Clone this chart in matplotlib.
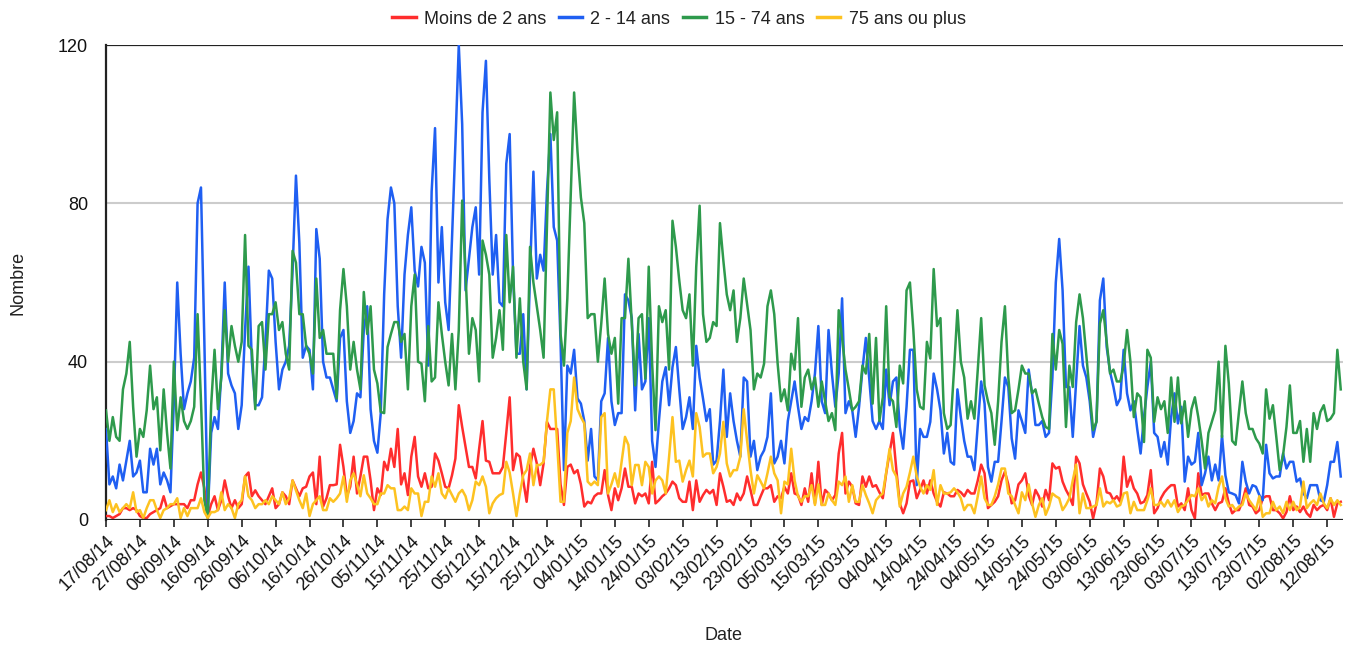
import matplotlib
matplotlib.use("Agg")
import matplotlib.pyplot as plt
import pandas as pd

plt.rcParams['font.family'] = ['Liberation Sans', 'DejaVu Sans']

start_date = "2014-08-17"
n_days = 365

series_names = ["Moins de 2 ans", "2 - 14 ans", "15 - 74 ans", "75 ans ou plus"]
series_colors = ["#ff2d2d", "#1f5ff2", "#2e9a4c", "#fdc220"]

moins_2 = [
    1, 1, 0.5, 1, 1.5, 3, 3, 2.5, 3, 2.5,
    1, 0.5, 0.5, 1.5, 2, 2.5, 3, 6, 3, 3.5,
    4, 4, 4, 4, 3, 5, 5, 9, 12, 8,
    1, 4, 6, 2.5, 5, 10, 6, 3, 5, 3,
    4, 11, 12, 6, 7.5, 6, 5, 4, 6, 8,
    3, 4, 7, 6, 4, 10, 8, 6, 8, 8.4,
    11, 12, 4, 16, 3.4, 5.5, 8.8, 8.8, 9, 19,
    13.4, 6, 8.4, 16, 6.7, 11, 16, 16, 10, 2.5,
    8, 6.3, 14.7, 12.6, 18, 13.4, 23, 9, 11.8, 6.3,
    16, 21, 11, 8.4, 11.8, 8, 8.4, 16.8, 15, 11.8,
    8.4, 8, 11.3, 15.5, 29, 23.5, 18.5, 13.4, 13.4, 10.5,
    18, 25, 15, 14.7, 11.8, 11.8, 11.8, 13.4, 22, 31,
    12.6, 16.8, 16, 10, 4.6, 13.4, 18, 14.3, 8.8, 14.3,
    24.8, 23, 23, 23, 9, 3.8, 13.4, 14, 11.8, 12.6,
    9, 3.4, 4.6, 4.2, 6, 6.7, 6.7, 12.6, 6.3, 2.5,
    8, 5, 8, 13, 8.4, 8.4, 4.2, 6.7, 6, 6.7,
    4.2, 14.7, 4.2, 5, 6, 6.7, 8, 9.7, 8.8, 5.5,
    4.6, 4.6, 9.7, 2.5, 10, 4.6, 6.3, 7.6, 6.7, 7.6,
    3.8, 11.8, 8.4, 4.6, 5, 3.8, 6.7, 5, 6.7, 11,
    7.6, 3.8, 3.8, 6, 8, 8, 8.8, 4.6, 6, 5.5,
    8.4, 6.7, 11.8, 6.7, 6.3, 3.8, 8, 4.6, 11.8, 4.2,
    14.7, 3.8, 7.6, 6.7, 5, 6.3, 16.8, 22, 6.7, 9.7,
    8.4, 4.2, 3.8, 11, 8.4, 11, 8.4, 8.8, 7, 5.5,
    11.8, 17, 22, 12.6, 4.2, 1.7, 4.2, 9.7, 10, 5.5,
    7.6, 10, 6.7, 10, 6.7, 4.6, 3.4, 7, 6.7, 6,
    6, 7.6, 7, 6, 7.6, 6.7, 6.7, 10, 14, 11.8,
    3, 3.8, 4.6, 6, 10, 12.2, 9, 4.2, 5, 9,
    10, 11.8, 6.3, 3.8, 7.6, 6, 3.4, 7.6, 5, 14.3,
    13, 13.4, 9.7, 7.6, 6, 3.8, 16, 14.3, 9, 6.7,
    4.6, 0.4, 4.2, 13, 11, 7, 6.7, 5, 6, 4.6,
    16, 8.4, 11, 8, 6.7, 4.2, 4.6, 6.3, 12.6, 1.7,
    3, 5.5, 7, 8, 8.8, 8.8, 3.4, 4.2, 2.5, 8,
    2.5, 0.4, 11.8, 6.3, 6.7, 6.7, 4.2, 2.5, 4.2, 4.6,
    8, 4.2, 1.7, 2.5, 2.5, 4.6, 8, 3.8, 3.4, 1.7,
    2.5, 5.5, 6, 6, 2.5, 2.5, 1.7, 0.4, 2, 6,
    2.5, 3.4, 2, 3.4, 1.7, 0.8, 3.8, 2.5, 3.4, 3.8,
    2.5, 5.5, 0.8, 4.2, 4.6,
]

de_2_a_14 = [
    23, 9, 11, 8, 14, 10, 15, 20, 11, 12,
    15, 7, 7, 18, 14, 18, 9, 12, 10, 7,
    30, 60, 42, 28, 32, 35, 41, 80, 84, 45,
    1, 22, 26, 23, 37, 60, 37, 34, 32, 23,
    29, 48, 64, 40, 29, 29, 31, 45, 63, 61,
    45, 33, 38, 40, 44, 63, 87, 70, 41, 44,
    43, 33, 73.5, 66, 40, 36, 36, 33, 30, 46,
    48, 30, 22, 25, 32, 31, 48, 54, 28, 20,
    17, 27, 57, 76, 84, 80, 54, 41, 62, 72,
    79, 63, 59, 69, 65, 39, 83, 99, 60, 74,
    55, 48, 71, 95, 120, 100, 58, 66, 74, 79,
    62, 103, 116, 86, 62, 72, 55, 54, 90, 97.5,
    62, 42, 42, 52, 33, 62, 88, 61, 67, 63,
    83, 97.5, 74, 70.6, 45, 12.6, 39, 37, 43, 30.7,
    29.4, 25, 15, 23, 11, 10, 30, 32, 46, 30,
    24, 27, 27, 57, 55.5, 51, 27.7, 47, 33, 35,
    51, 20, 13.4, 25, 35, 38.6, 29, 38.6, 43.7, 33,
    23, 26, 31, 23, 44, 36, 30.7, 25, 28, 14,
    15, 25, 38, 21, 32, 25, 20, 16, 36, 35,
    16, 20, 12.6, 16, 17.6, 21, 32, 14.3, 16, 20,
    14.3, 25, 30, 35, 28.6, 23, 26, 25, 30, 37,
    49, 30, 27, 48, 37, 28.6, 37, 56, 27, 30,
    27.7, 21, 28.6, 38, 46, 35.7, 25, 23, 25, 23,
    38, 29, 35, 36, 23.5, 18, 28.6, 43, 43, 8.8,
    23, 21, 21, 24.8, 37, 33, 27.7, 16.8, 22, 14.7,
    14, 33, 26, 20, 16, 16, 12.6, 24, 35, 29.4,
    13.4, 9.7, 14.7, 14.7, 25, 36, 33.6, 20.6, 15.5, 27.7,
    25, 22, 38, 32, 24, 24, 25, 21, 22, 36,
    60, 71, 58, 33.6, 33.6, 21, 35, 49, 39, 36,
    30, 21, 25, 55.5, 61, 43.7, 37.4, 33.6, 29, 30.7,
    43, 32, 27.7, 30, 23, 16.8, 26, 33.6, 40, 22,
    21, 16, 19.7, 14, 26, 32, 24.4, 28.6, 9.7, 16,
    14, 14.7, 22, 8.8, 11.8, 16, 10, 14, 10, 21.4,
    11.3, 7, 6.7, 6.3, 4.2, 14.7, 9.7, 6.7, 8.8, 8.4,
    6.3, 5, 19, 11.8, 10.5, 11, 11, 16.8, 13, 14.7,
    14.7, 9.7, 10.5, 6.7, 5.5, 8.8, 8.8, 8.8, 5, 4.6,
    8.8, 14.7, 14.7, 19.7, 11,
]

de_15_a_74 = [
    27.7, 20, 26, 21, 20, 33, 37, 45, 28.6, 16,
    23, 21, 27.7, 39, 28, 31, 17.6, 33, 22, 13,
    40, 22.7, 31, 25, 23, 25, 28.6, 52, 30, 5,
    0.5, 29, 43, 28, 36, 53, 40, 49, 44, 40,
    45, 72, 44, 43, 28, 49, 50, 38, 52, 52,
    55, 48, 50, 42, 38, 68, 65, 52, 52, 44,
    42, 37, 61, 46, 48, 42, 42, 42, 30.7, 53,
    63.4, 54, 38, 45, 38, 33, 57.6, 47, 54, 38,
    34.5, 27.3, 27, 43.7, 47, 50, 50, 45, 47, 33,
    54, 62, 40, 39.5, 30, 49, 35, 36, 55, 47,
    40, 34, 47, 33, 48, 80.7, 62, 42, 51, 48,
    35, 70.6, 67, 62, 41, 46, 53, 43, 72, 55,
    64, 41, 56, 40, 33, 69, 60, 54, 48, 41,
    75, 108, 96, 103, 47, 39, 56, 82, 108, 93,
    81.5, 75, 51, 52, 52, 40, 49.6, 61, 47, 42,
    46, 29.4, 51, 51, 66, 49.6, 34, 51, 52, 35.7,
    64, 39.5, 22.7, 54, 50, 53, 38, 75.6, 69, 60.5,
    53, 51, 57, 39, 64, 79.4, 52, 45, 46, 50,
    49, 75, 65.5, 57, 53, 58, 45, 51, 61, 54.6,
    48, 33, 37, 36, 39.5, 54, 58, 52, 39.5, 30,
    33, 27.7, 42, 38, 51, 28.6, 36, 38, 33, 36,
    28.6, 35, 30, 25, 27, 22.7, 53, 46, 38, 33,
    27.7, 28.6, 30, 39, 37, 47, 29.4, 46, 25, 31,
    54, 31, 30, 23.5, 39, 34.5, 58, 60, 48, 33,
    28.6, 28, 45, 40.8, 63.4, 49, 51, 27, 23, 24,
    38, 53, 40, 36, 25.6, 30, 25.6, 38, 51, 34,
    30, 27, 19, 30, 45, 54, 36, 27, 27.7, 33,
    39, 37, 37, 32, 33, 29.4, 26, 23.5, 23, 47,
    38, 48, 44.5, 23.5, 39, 33.6, 50, 57, 51, 41.6,
    32, 22.7, 24.8, 49.6, 53, 45, 37, 38, 35, 35,
    39, 48, 40, 26, 32, 31, 19.7, 43, 41, 24.8,
    31, 28, 30, 22, 36, 24.8, 36, 24.4, 30, 21,
    28, 31, 26, 20, 13, 22, 24.8, 27.7, 40, 21,
    44, 34.5, 20, 19, 27.3, 35, 27, 23, 23, 20.6,
    19.3, 16.8, 33, 25.6, 29, 21, 12.6, 16.4, 23.5, 34,
    22, 22, 25, 14.7, 23, 14.7, 27, 23, 27.3, 29,
    25, 25.6, 27, 43, 33,
]

plus_75 = [
    2.5, 5, 2, 4, 2, 3, 4, 3, 7, 2,
    2.5, 0.5, 3, 5, 5, 2.5, 0.5, 2.5, 3, 4,
    4, 5.5, 0.5, 3, 1, 3, 3, 3, 5.5, 2,
    0.5, 2, 2, 2.5, 7, 2.5, 4, 3, 0.5, 4,
    5, 11, 6, 5, 3, 4, 4, 5, 4, 6,
    5, 4, 7, 4, 5.5, 10, 7.5, 5, 3, 6.7,
    1, 4, 5, 6, 2.5, 2.5, 5.5, 4.6, 5.5, 6.7,
    11, 4.6, 10, 11.8, 9, 6, 11.3, 6.7, 5.5, 4,
    4, 6.7, 6.7, 8.8, 8, 8, 2.5, 2.5, 3.4, 2.5,
    8, 6.7, 6.7, 1, 4.6, 4.6, 11, 8.4, 11.8, 6.7,
    5.5, 8, 6.3, 4.6, 6.7, 7.6, 6, 2.5, 5, 9.7,
    8.8, 11, 8.4, 1.7, 4.2, 5.5, 6.3, 6.7, 14.7, 12,
    6.7, 1, 6.7, 11.3, 12.6, 16.8, 8.8, 13.9, 13.9, 14.7,
    25, 33, 33, 19.3, 4.6, 4.6, 22, 25, 36, 28,
    26, 24.4, 9.7, 8.8, 9.7, 8.8, 26, 27, 6.7, 9,
    11.8, 8.4, 14.7, 21, 19, 8.8, 13.9, 13.9, 8.8, 14.7,
    13.4, 6.7, 10, 11, 10, 6.7, 16, 26, 14.7, 15,
    9.7, 12.6, 15, 11, 27, 23.5, 16, 16.8, 16.8, 11.8,
    13.4, 16.8, 24.8, 14.3, 11, 12.6, 12.6, 16, 28, 20,
    12.6, 6.7, 11.3, 9.7, 8, 11.8, 16, 11.8, 10, 1.7,
    9.7, 9, 18, 10, 6, 4.6, 6, 6, 8.8, 3.8,
    9, 3.8, 3.8, 6.7, 5, 3.8, 9.7, 8.8, 11, 4.6,
    8.8, 4.6, 4.6, 8.8, 6.3, 4.2, 1.7, 5, 6, 6.7,
    12, 18, 12.6, 11, 3.4, 6.7, 8.4, 12, 16, 11,
    8.4, 6.7, 8.8, 7.6, 12.6, 3.8, 8.8, 6.7, 6.7, 7,
    8, 7, 5.5, 2.5, 3.8, 3.8, 1.7, 6, 11, 5.5,
    3.8, 3.8, 6, 9, 13, 13, 6.7, 6, 3.8, 1.7,
    7, 5, 9, 4.2, 0.8, 3.8, 5.5, 1.3, 3.4, 6.7,
    6, 5.5, 2.5, 3.8, 5.5, 10, 14, 1.7, 6.7, 3,
    3, 3.4, 3.8, 8, 3.4, 4.6, 4.2, 5, 3.4, 3.8,
    6.7, 7, 1.7, 4.6, 2.5, 2.5, 2.5, 5, 8, 3.8,
    3.8, 4.6, 3.4, 5, 3.4, 5, 2, 3.4, 3.8, 5,
    6.3, 6, 8, 5, 6.3, 3.4, 5, 4.2, 8.4, 11,
    5.5, 3.4, 3.8, 2.5, 3.4, 3.8, 6.7, 5, 3.8, 2.5,
    6, 0.8, 1.7, 1.7, 4.6, 2.5, 3.4, 1.7, 4.6, 2.5,
    4.6, 2.5, 3.4, 9.7, 3, 4.2, 5, 3.8, 6.7, 4.2,
    3, 5.5, 3.8, 5, 3.8,
]

y_ticks = [0, 40, 80, 120]
x_tick_step_days = 10

dates = pd.date_range(start_date, periods=n_days, freq="D")
series = [moins_2, de_2_a_14, de_15_a_74, plus_75]

W, H = 1349, 646
fig = plt.figure(figsize=(W / 100, H / 100), dpi=100)
left, right, top, bottom = 106, 1343, 45, 520
ax = fig.add_axes([left / W, 1 - bottom / H, (right - left) / W, (bottom - top) / H])

for vals, name, col in zip(series, series_names, series_colors):
    ax.plot(dates[:len(vals)], vals, color=col, lw=1.8, label=name,
            solid_joinstyle='round', zorder=3)

txt_col = "#111111"
fs = 13

ax.set_ylim(0, 120)
ax.set_xlim(dates[0], dates[-1] + pd.Timedelta(hours=16))
ax.set_yticks(y_ticks)
ax.set_yticklabels([str(v) for v in y_ticks], fontsize=fs, color=txt_col)
for v in y_ticks[1:-1]:
    ax.axhline(v, color="#cccccc", lw=1.5, zorder=1)
ax.axhline(120, color="#222222", lw=1.6, zorder=2)
ax.axhline(0, color="#222222", lw=1.6, zorder=4)

tick_dates = dates[::x_tick_step_days]
ax.set_xticks(tick_dates)
ax.set_xticklabels([d.strftime("%d/%m/%y") for d in tick_dates], rotation=45,
                   ha="right", va="top", rotation_mode="anchor", fontsize=fs, color=txt_col)
ax.tick_params(axis="x", direction="out", length=5, width=1.2, color="#222222", pad=4)
ax.tick_params(axis="y", length=0, pad=13)

for s in ["top", "right", "bottom"]:
    ax.spines[s].set_visible(False)
ax.spines["left"].set_color("#222222")
ax.spines["left"].set_linewidth(1.6)

fig.text(18 / W, 1 - 283 / H, "Nombre", rotation=90, ha="center", va="center",
         fontsize=fs, color="#222222")
fig.text(723 / W, 1 - 636 / H, "Date", ha="center", va="center", fontsize=fs, color="#222222")

leg = fig.legend(loc="center", bbox_to_anchor=(679 / W, 1 - 19 / H), ncol=4, frameon=False,
                 fontsize=fs, handlelength=1.3, handletextpad=0.45, columnspacing=0.7,
                 labelcolor="#222222")
for line in leg.get_lines():
    line.set_linewidth(2.5)

fig.savefig("out.png", dpi=100)
